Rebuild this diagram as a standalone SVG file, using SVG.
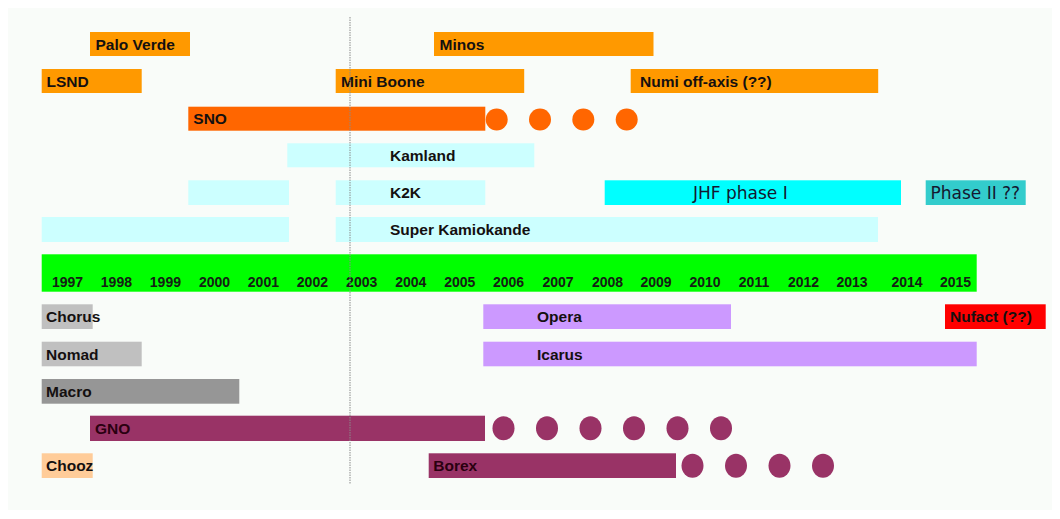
<svg xmlns="http://www.w3.org/2000/svg" width="1060" height="519" viewBox="0 0 1060 519">
<style>
.lbl{font-family:"Liberation Sans",Arial,sans-serif;font-weight:bold;font-size:15.5px;fill:#141010}
.yr{font-family:"Liberation Sans",Arial,sans-serif;font-weight:bold;font-size:14px;fill:#142014;text-anchor:middle}
.cmc{font-family:"DejaVu Sans",sans-serif;font-size:17px;fill:#141830}
.org{fill:#ff9900}
.sno{fill:#ff6600}
.lc{fill:#ccffff}
.gno{fill:#993366}
.gry{fill:#c0c0c0}
.pur{fill:#cc99ff}
</style>
<rect x="0" y="0" width="1060" height="519" fill="#ffffff"/>
<rect x="8" y="8" width="1044" height="502" fill="#f9fcf9"/>

<g id="palo-verde"><rect class="org" x="90" y="32" width="100" height="24"/><text class="lbl" x="95.5" y="49.5">Palo Verde</text></g>
<g id="minos"><rect class="org" x="434" y="32" width="219.5" height="24"/><text class="lbl" x="439.5" y="49.5">Minos</text></g>
<g id="lsnd"><rect class="org" x="41.7" y="69" width="100" height="24"/><text class="lbl" x="46.5" y="86.5">LSND</text></g>
<g id="mini-boone"><rect class="org" x="335.7" y="69" width="188.5" height="24"/><text class="lbl" x="341" y="86.5">Mini Boone</text></g>
<g id="numi"><rect class="org" x="630.7" y="69" width="247.5" height="24"/><text class="lbl" x="640" y="86.5">Numi off-axis (??)</text></g>
<g id="sno"><rect class="sno" x="188.3" y="106.7" width="297" height="24"/>
<circle class="sno" cx="496.7" cy="119.5" r="11"/><circle class="sno" cx="540" cy="119.5" r="11"/><circle class="sno" cx="583.3" cy="119.5" r="11"/><circle class="sno" cx="626.7" cy="119.5" r="11"/>
<text class="lbl" x="193.3" y="124">SNO</text></g>
<g id="kamland"><rect class="lc" x="287.3" y="143.3" width="247" height="24"/><text class="lbl" x="390" y="161">Kamland</text></g>
<g id="k2k"><rect class="lc" x="188.3" y="180.3" width="100.7" height="24.7"/><rect class="lc" x="335.7" y="180.3" width="149.6" height="24.7"/><text class="lbl" x="390" y="198">K2K</text></g>
<g id="jhf"><rect fill="#00ffff" x="604.7" y="180.3" width="296.3" height="24.7"/><text class="cmc" x="693" y="199">JHF phase I</text></g>
<g id="phase2"><rect fill="#33cccc" x="925.7" y="180.3" width="100" height="24.7"/><text class="cmc" x="930.5" y="199">Phase II ??</text></g>
<g id="super-k"><rect class="lc" x="41.7" y="217" width="247.3" height="25"/><rect class="lc" x="335.7" y="217" width="542.3" height="25"/><text class="lbl" x="390" y="235">Super Kamiokande</text></g>

<g id="years"><rect fill="#00ff00" x="41.7" y="254.3" width="935" height="37.4"/>
<text class="yr" x="67.5" y="286.5">1997</text>
<text class="yr" x="116.4" y="286.5">1998</text>
<text class="yr" x="165.4" y="286.5">1999</text>
<text class="yr" x="214.5" y="286.5">2000</text>
<text class="yr" x="263.4" y="286.5">2001</text>
<text class="yr" x="312.4" y="286.5">2002</text>
<text class="yr" x="361.7" y="286.5">2003</text>
<text class="yr" x="410.8" y="286.5">2004</text>
<text class="yr" x="459.8" y="286.5">2005</text>
<text class="yr" x="508.5" y="286.5">2006</text>
<text class="yr" x="558" y="286.5">2007</text>
<text class="yr" x="607.5" y="286.5">2008</text>
<text class="yr" x="656" y="286.5">2009</text>
<text class="yr" x="705" y="286.5">2010</text>
<text class="yr" x="754" y="286.5">2011</text>
<text class="yr" x="803.5" y="286.5">2012</text>
<text class="yr" x="852" y="286.5">2013</text>
<text class="yr" x="907" y="286.5">2014</text>
<text class="yr" x="955.5" y="286.5">2015</text>
</g>

<g id="chorus"><rect class="gry" x="41.7" y="304.3" width="51" height="24.7"/><text class="lbl" x="46" y="322">Chorus</text></g>
<g id="opera"><rect class="pur" x="483.3" y="304.3" width="247.7" height="24.7"/><text class="lbl" x="537" y="322">Opera</text></g>
<g id="nufact"><rect fill="#ff0000" x="945" y="304.3" width="100.7" height="24.7"/><text class="lbl" x="950" y="322">Nufact (??)</text></g>
<g id="nomad"><rect class="gry" x="41.7" y="341.7" width="100" height="24.6"/><text class="lbl" x="46" y="359.5">Nomad</text></g>
<g id="icarus"><rect class="pur" x="483.3" y="341.7" width="493.4" height="24.6"/><text class="lbl" x="537" y="359.5">Icarus</text></g>
<g id="macro"><rect fill="#969696" x="41.7" y="379" width="197.6" height="24.7"/><text class="lbl" x="46" y="397">Macro</text></g>
<g id="gno"><rect class="gno" x="90" y="415.7" width="395" height="25.3"/>
<ellipse class="gno" cx="503.5" cy="428.3" rx="11" ry="12"/><ellipse class="gno" cx="547" cy="428.3" rx="11" ry="12"/><ellipse class="gno" cx="590.5" cy="428.3" rx="11" ry="12"/><ellipse class="gno" cx="634" cy="428.3" rx="11" ry="12"/><ellipse class="gno" cx="677.5" cy="428.3" rx="11" ry="12"/><ellipse class="gno" cx="721" cy="428.3" rx="11" ry="12"/>
<text class="lbl" x="95" y="434" fill="#2a0010" style="fill:#2a0010">GNO</text></g>
<g id="chooz"><rect fill="#ffcc99" x="41.7" y="453.3" width="51" height="24.7"/><text class="lbl" x="46" y="471">Chooz</text></g>
<g id="borex"><rect class="gno" x="428.7" y="453.3" width="247.3" height="24.7"/>
<ellipse class="gno" cx="692.5" cy="465.7" rx="11" ry="12"/><ellipse class="gno" cx="736" cy="465.7" rx="11" ry="12"/><ellipse class="gno" cx="779.5" cy="465.7" rx="11" ry="12"/><ellipse class="gno" cx="823" cy="465.7" rx="11" ry="12"/>
<text class="lbl" x="433.3" y="471" style="fill:#2a0010">Borex</text></g>

<g id="connectors"><line x1="350" y1="17" x2="350" y2="484" stroke="#8a8a8a" stroke-width="1" stroke-dasharray="1.5,1"/></g>
</svg>
